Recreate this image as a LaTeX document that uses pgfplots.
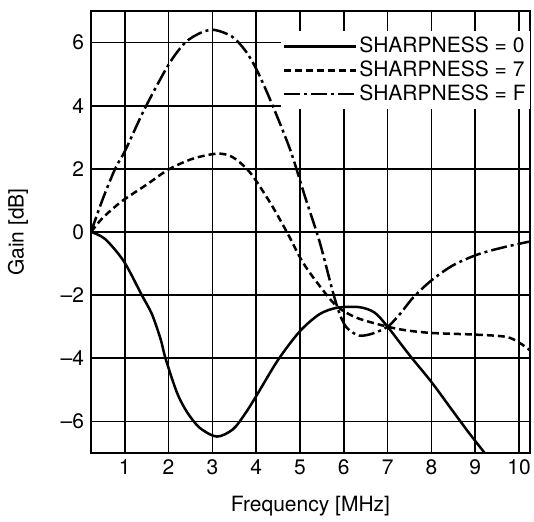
\documentclass[border=0pt]{standalone}
\usepackage{fontspec}
\setmainfont{TeX Gyre Heros}
\usepackage{pgfplots}
\pgfplotsset{compat=1.18}
\usetikzlibrary{calc}

\begin{document}
\begin{tikzpicture}
\begin{axis}[
    scale only axis,
    width=219.5pt, height=221pt,
    xmin=0.23, xmax=10.25,
    ymin=-7, ymax=7,
    xtick={1,2,3,4,5,6,7,8,9,10},
    ytick={-6,-4,-2,0,2,4,6},
    yticklabels={--6,--4,--2,0,2,4,6},
    /pgf/number format/assume math mode=true,
    major tick length=0pt,
    grid=major,
    grid style={black, line width=0.85pt},
    axis line style={line width=1.1pt},
    font=\fontsize{10.5}{12.6}\selectfont,
    xlabel={Frequency [MHz]},
    ylabel={Gain [dB]},
    every axis x label/.style={at={(axis description cs:0.5,-0.12)}, anchor=center},
    every axis y label/.style={at={(axis description cs:-0.166,0.5)}, rotate=90, anchor=center},
    legend cell align=left,
    legend image code/.code={\draw[#1] (0pt,0pt) -- (36pt,0pt);},
    legend style={at={(1,0.955)}, anchor=north east, draw=none, fill=white,
        font=\fontsize{10.5}{12.6}\selectfont,
        inner xsep=1pt, inner ysep=1pt, row sep=-1.5pt,
        nodes={inner xsep=1pt}},
]
% SHARPNESS = 0
\addplot[black, line width=1.25pt, smooth] coordinates {
    (0.23,0) (0.55,-0.22) (0.98,-0.93) (1.39,-2.0) (1.62,-2.6) (1.82,-3.4)
    (1.93,-4.0) (2.19,-5.08) (2.42,-5.7) (2.71,-6.2) (3.1,-6.48)
    (3.47,-6.25) (3.75,-5.75) (4.0,-5.2) (4.5,-4.05) (5.0,-3.14) (5.45,-2.6)
    (5.85,-2.4) (6.35,-2.38) (6.7,-2.55) (7.0,-3.0) (7.5,-3.9) (8.0,-4.75)
    (8.45,-5.6) (8.85,-6.35) (9.3,-7.15)};
% SHARPNESS = 7
\addplot[black, line width=1.25pt, smooth, dash pattern=on 3.5pt off 2pt] coordinates {
    (0.23,0) (0.5,0.45) (0.93,0.97) (1.5,1.5) (2.0,1.98) (2.55,2.32) (3.1,2.48)
    (3.45,2.38) (3.85,1.9) (4.31,0.95) (4.7,0.0) (5.06,-0.95) (5.45,-1.71)
    (5.84,-2.35) (6.3,-2.72) (7.0,-3.0) (7.45,-3.12) (8.03,-3.2) (9.0,-3.25)
    (9.7,-3.32) (10.0,-3.5) (10.25,-3.75)};
% SHARPNESS = F
\addplot[black, line width=1.25pt, smooth, dash pattern=on 8pt off 2pt on 1.5pt off 2pt] coordinates {
    (0.23,0) (0.5,1.05) (0.78,2.0) (1.0,2.55) (1.25,3.3) (1.49,4.0) (2.0,5.3)
    (2.38,6.0) (2.75,6.32) (3.05,6.4) (3.45,6.19) (3.75,5.75) (4.0,5.17)
    (4.31,4.22) (4.77,2.63) (5.11,1.14) (5.45,-0.32) (5.75,-1.9) (5.92,-2.65)
    (6.08,-3.05) (6.35,-3.28) (6.65,-3.22) (7.0,-3.0) (7.28,-2.6) (7.6,-2.05)
    (8.03,-1.5) (8.5,-1.05) (9.04,-0.72) (9.6,-0.5) (10.25,-0.3)};
\legend{SHARPNESS = 0, SHARPNESS = 7, SHARPNESS = F}
\coordinate (sw) at (rel axis cs:0,0);
\coordinate (ne) at (rel axis cs:1,1);
\end{axis}
\pgfresetboundingbox
\path[use as bounding box] ($(sw)+(-45.5pt,-34.5pt)$) rectangle ($(ne)+(2pt,5.5pt)$);
\end{tikzpicture}
\end{document}
